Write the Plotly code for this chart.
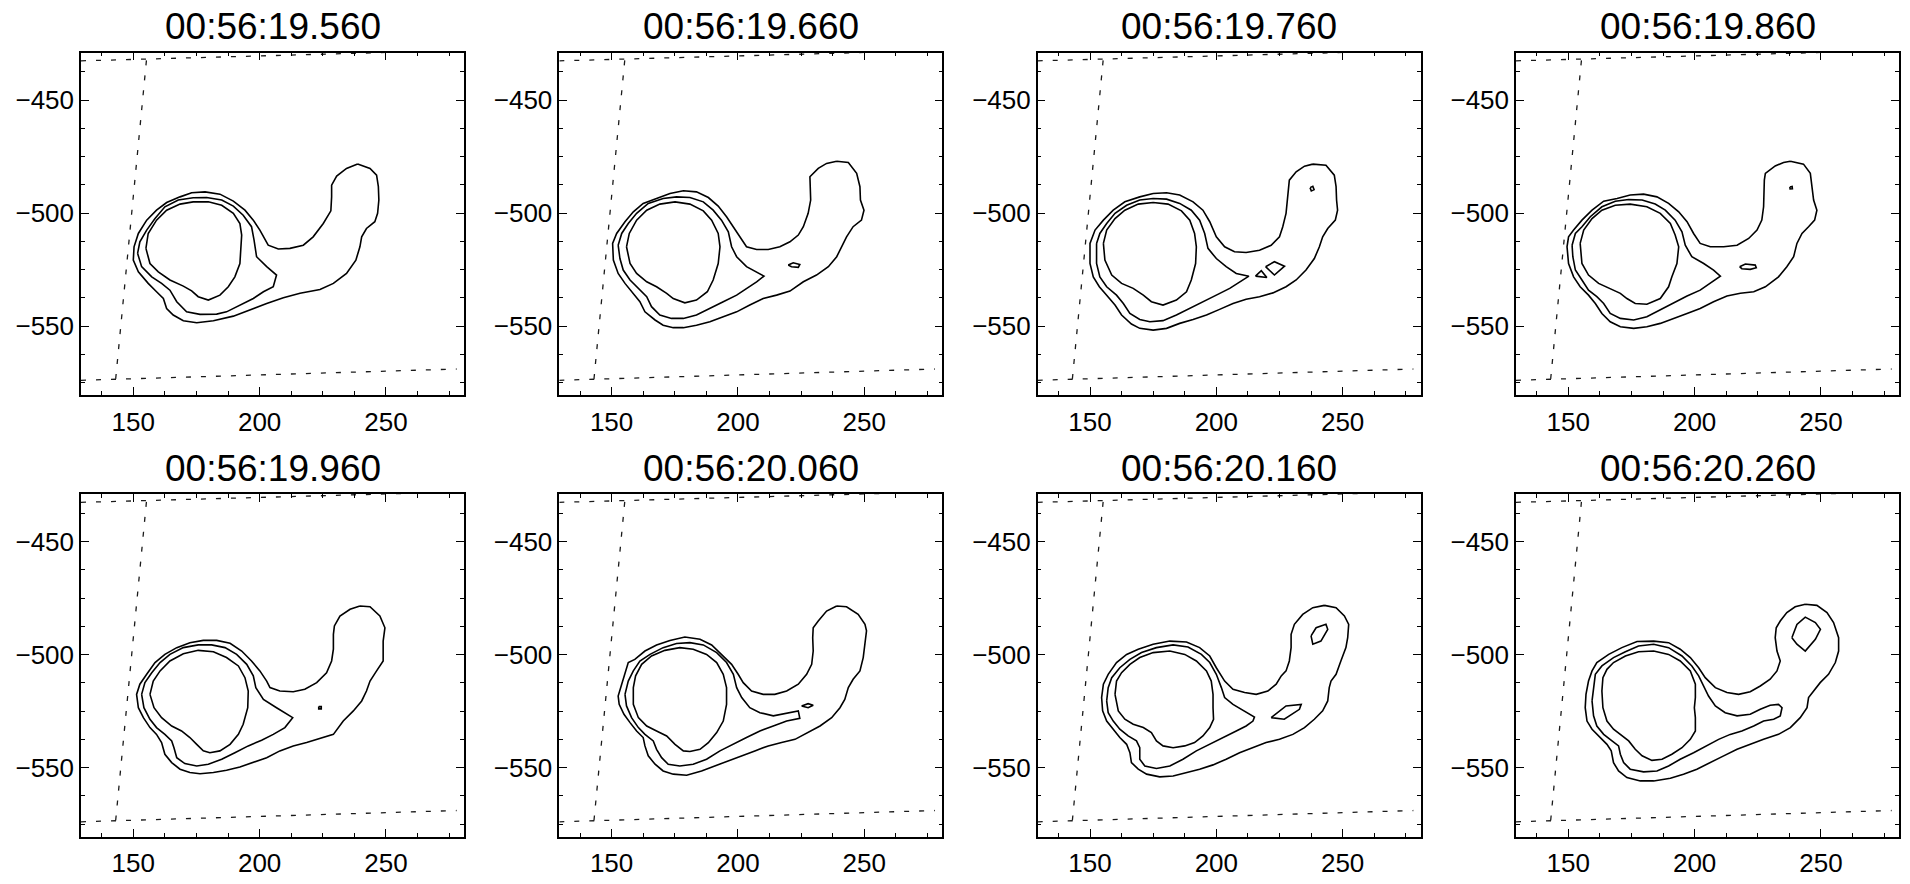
import plotly.graph_objects as go

# ---------------- data ----------------
TIMES = ["00:56:19.560", "00:56:19.660", "00:56:19.760", "00:56:19.860",
         "00:56:19.960", "00:56:20.060", "00:56:20.160", "00:56:20.260"]

X_RANGE = [129.3, 280.9]
Y_RANGE = [-580.5, -428.9]
X_TICKS = [150, 200, 250]
Y_TICKS = [-550, -500, -450]

# dashed coordinate-grid lines (same in every panel)
GRID_VERTICAL = [(155.2, -432.4), (143.0, -573.7)]
GRID_BOTTOM = [(129.3, -574.0), (278.0, -569.0)]
GRID_TOP = [(129.3, -432.6), (262.0, -428.5)]

# ---- panel 1 ----
P1_OUTER = [(238.8,-478.3),(243.7,-480.2),(246.3,-483.2),(247.0,-488.3),(247.2,-494.2),(246.7,-500.1),
            (245.6,-503.8),(242.3,-506.8),(240.4,-510.5),(239.7,-514.9),(238.1,-520.8),(234.4,-526.7),
            (229.2,-531.1),(223.9,-533.8),(216.0,-535.5),(209.4,-537.5),(202.8,-540.0),(196.2,-542.9),
            (189.6,-545.6),(181.7,-547.6),(175.1,-548.5),(169.8,-547.6),(165.8,-545.1),(163.2,-542.2),
            (161.9,-537.8),(159.2,-534.8),(155.9,-531.1),(152.0,-526.0),(150.0,-520.8),(150.3,-514.9),
            (152.0,-509.0),(155.3,-503.1),(159.2,-498.7),(163.2,-495.3),(168.5,-492.8),(173.1,-491.0),
            (178.4,-490.6),(184.3,-491.6),(189.6,-494.7),(194.2,-498.7),(197.5,-503.1),(200.1,-507.5),
            (203.4,-514.2),(207.4,-515.9),(212.0,-515.6),(217.3,-514.2),(221.2,-510.5),(225.2,-504.6),
            (228.2,-499.0),(228.5,-492.8),(228.5,-487.6),(230.5,-483.6),(234.4,-480.2)]
P1_MID = [(151.7,-517.8),(152.6,-512.7),(155.3,-507.5),(158.6,-502.4),(162.5,-497.2),(167.8,-494.2),
          (173.7,-493.2),(179.0,-493.1),(185.0,-494.2),(189.6,-496.9),(193.5,-500.9),(196.8,-506.0),
          (197.8,-511.9),(198.8,-519.3),(202.8,-523.7),(206.7,-527.4),(205.4,-532.6),(201.5,-534.8),
          (197.5,-537.8),(192.2,-540.7),(186.9,-543.7),(183.0,-544.7),(176.4,-544.8),(171.1,-543.7),
          (167.2,-539.2),(164.5,-534.1),(161.2,-531.1),(157.3,-528.2),(153.3,-523.7)]
P1_INNER = [(155.0,-515.6),(155.9,-509.0),(159.2,-503.1),(163.2,-498.7),(168.5,-496.0),(173.7,-495.0),
            (179.7,-495.0),(185.0,-496.5),(189.6,-500.1),(192.2,-504.6),(192.9,-509.7),(192.5,-515.6),
            (192.2,-522.3),(190.2,-528.2),(187.6,-532.6),(184.3,-536.3),(179.7,-538.5),(175.7,-537.0),
            (173.1,-534.4),(169.8,-532.3),(164.5,-529.6),(159.9,-526.0),(156.6,-522.3)]

# ---- panel 2 ----
P2_OUTER = [(239.1,-477.0),(243.7,-477.6),(247.0,-482.4),(248.3,-488.3),(248.5,-494.2),(249.9,-498.7),
            (248.9,-503.1),(245.6,-506.0),(243.0,-510.5),(241.0,-514.9),(239.1,-519.3),(235.8,-523.7),
            (231.1,-527.4),(225.9,-530.4),(220.6,-534.5),(215.3,-536.3),(210.0,-537.8),(204.7,-540.7),
            (199.5,-543.7),(194.2,-545.9),(188.9,-548.1),(183.6,-549.6),(178.4,-550.7),(174.4,-550.7),
            (170.4,-549.6),(167.2,-547.3),(163.2,-543.7),(161.2,-539.2),(158.6,-535.5),(155.3,-531.1),
            (152.6,-526.7),(150.7,-520.8),(150.4,-513.4),(152.0,-509.0),(155.3,-503.8),(158.6,-499.4),
            (162.5,-495.7),(167.8,-493.5),(173.1,-491.3),(178.4,-490.1),(183.6,-490.6),(188.3,-493.1),
            (192.2,-496.9),(195.5,-501.6),(198.2,-506.0),(200.8,-510.5),(203.4,-514.9),(207.4,-516.1),
            (212.0,-516.1),(216.6,-514.9),(220.6,-512.7),(223.9,-509.7),(225.9,-506.0),(227.8,-500.1),
            (228.8,-494.2),(228.5,-483.9),(231.8,-480.2),(235.1,-478.0)]
P2_MID = [(152.6,-514.2),(154.0,-509.0),(156.6,-504.6),(159.9,-500.1),(164.5,-495.7),(170.4,-493.5),
          (175.7,-492.8),(181.0,-493.1),(186.3,-495.0),(190.2,-498.7),(193.5,-503.1),(196.2,-508.3),
          (197.5,-514.9),(199.5,-519.3),(203.4,-523.7),(210.3,-527.9),(207.4,-530.4),(203.4,-533.3),
          (199.5,-536.3),(194.2,-539.2),(188.9,-542.2),(183.6,-545.1),(178.4,-546.6),(173.7,-546.6),
          (169.1,-545.1),(165.8,-541.4),(163.9,-537.0),(160.6,-533.3),(157.3,-529.6),(154.6,-525.2),
          (153.3,-520.1)]
P2_INNER = [(155.9,-514.9),(157.0,-509.0),(159.9,-503.1),(163.9,-498.7),(169.1,-496.0),(175.1,-495.0),
            (181.0,-496.0),(186.3,-499.0),(189.6,-503.1),(192.2,-509.0),(192.9,-514.9),(192.2,-522.3),
            (190.2,-529.6),(187.9,-534.8),(183.6,-538.5),(179.0,-539.7),(174.4,-537.8),(171.8,-535.5),
            (167.8,-532.6),(163.9,-530.4),(159.9,-526.7),(157.3,-522.3)]
P2_SPOT = [(219.9,-523.0),(221.9,-522.0),(224.5,-522.7),(223.9,-524.0),(221.2,-523.7)]

# ---- panel 3 ----
P3_OUTER = [(238.2,-478.3),(243.4,-478.8),(246.7,-483.2),(247.4,-488.3),(247.6,-494.2),(248.0,-498.7),
            (247.1,-503.1),(244.1,-506.8),(242.1,-510.5),(240.8,-514.9),(238.8,-520.1),(235.5,-525.2),
            (231.6,-529.6),(227.6,-532.6),(222.4,-535.3),(217.1,-537.0),(211.8,-538.1),(206.6,-540.0),
            (201.3,-542.6),(196.1,-545.1),(190.8,-547.1),(185.5,-548.8),(180.3,-551.0),(175.0,-551.8),
            (169.7,-551.0),(166.4,-549.1),(162.5,-545.1),(159.9,-540.7),(156.6,-536.3),(153.7,-532.6),
            (151.3,-528.2),(150.0,-522.3),(150.0,-513.4),(152.0,-507.5),(155.3,-503.1),(159.2,-498.7),
            (163.8,-495.0),(169.7,-492.8),(175.0,-491.3),(180.3,-491.0),(185.5,-492.0),(190.8,-495.0),
            (194.7,-498.7),(197.4,-503.8),(200.0,-510.5),(203.3,-514.9),(207.2,-517.1),(211.8,-517.4),
            (217.1,-516.4),(221.7,-514.2),(225.0,-510.5),(226.3,-506.0),(227.6,-500.1),(228.3,-492.8),
            (228.9,-485.4),(231.6,-481.7),(234.9,-479.2)]
P3_MID = [(152.6,-513.4),(153.9,-509.0),(156.6,-504.6),(159.9,-500.1),(164.5,-496.5),(169.7,-494.2),
          (175.0,-493.5),(180.3,-493.8),(185.5,-495.7),(190.1,-498.7),(193.4,-503.1),(195.4,-509.0),
          (196.7,-515.6),(200.0,-520.1),(203.9,-523.7),(207.9,-526.7),(212.9,-527.9),(209.2,-530.4),
          (205.3,-533.3),(200.0,-536.3),(194.7,-539.2),(189.5,-542.2),(184.2,-545.1),(178.9,-547.6),
          (173.7,-548.1),(169.7,-547.1),(165.8,-544.4),(163.2,-540.0),(160.5,-536.3),(156.6,-532.6),
          (153.9,-528.2),(152.6,-522.3)]
P3_INNER = [(155.3,-513.4),(156.6,-507.5),(159.9,-502.4),(163.8,-498.7),(169.1,-496.0),(175.0,-495.3),
            (180.9,-496.0),(186.2,-499.0),(189.5,-503.1),(191.4,-509.0),(192.1,-514.9),(191.8,-522.3),
            (190.1,-529.6),(188.2,-534.8),(184.2,-538.5),(178.9,-540.7),(174.3,-539.2),(171.1,-536.3),
            (167.1,-533.3),(162.5,-531.1),(158.6,-527.4),(155.9,-520.8)]
P3_TRIANGLE = [(215.5,-527.9),(217.8,-525.5),(220.0,-528.5)]
P3_DIAMOND = [(219.5,-523.7),(223.0,-521.5),(227.0,-523.5),(223.0,-527.4)]
P3_DOT = [(237.1,-488.7),(238.2,-488.1),(238.7,-489.6),(237.6,-490.2)]

# ---- panel 4 ----
P4_OUTER = [(237.9,-477.0),(243.1,-478.3),(245.8,-482.4),(246.4,-488.3),(247.1,-494.2),(248.4,-498.7),
            (247.5,-503.1),(245.1,-506.0),(242.5,-509.0),(240.5,-513.4),(239.2,-519.3),(236.5,-523.7),
            (233.2,-528.2),(228.0,-532.6),(223.4,-534.8),(218.1,-535.5),(212.8,-536.7),(207.5,-539.2),
            (202.2,-542.2),(197.0,-544.4),(191.7,-546.6),(186.4,-548.8),(181.1,-550.3),(175.9,-551.0),
            (170.6,-550.3),(166.6,-548.1),(163.3,-544.4),(160.7,-540.0),(158.0,-536.3),(154.7,-532.6),
            (152.1,-528.2),(150.1,-522.3),(149.5,-514.9),(150.1,-510.5),(152.1,-507.5),(155.4,-503.1),
            (159.4,-498.7),(164.0,-494.7),(169.3,-493.5),(174.5,-492.0),(179.8,-491.6),(185.1,-492.8),
            (189.7,-495.7),(193.7,-499.4),(197.0,-503.8),(199.6,-509.0),(202.2,-513.4),(206.2,-514.9),
            (211.5,-514.9),(216.8,-514.2),(221.4,-511.2),(224.7,-507.5),(226.6,-503.1),(227.3,-497.2),
            (227.6,-485.4),(228.0,-482.4),(231.9,-479.1),(235.2,-477.6)]
P4_MID = [(151.5,-514.2),(152.8,-509.0),(155.4,-506.0),(158.7,-501.6),(163.3,-497.2),(168.6,-494.7),
          (173.9,-494.0),(179.2,-494.2),(184.4,-496.0),(188.4,-498.7),(192.3,-503.1),(195.0,-508.3),
          (196.3,-514.2),(198.9,-519.3),(203.6,-522.3),(207.5,-525.2),(210.2,-527.9),(206.9,-530.4),
          (202.2,-534.1),(197.0,-536.7),(191.7,-539.7),(186.4,-542.6),(181.1,-545.9),(175.9,-547.3),
          (170.6,-546.6),(166.6,-544.4),(164.0,-540.0),(161.3,-537.0),(158.0,-534.1),(155.4,-529.6),
          (152.8,-525.2),(151.8,-519.3)]
P4_INNER = [(154.7,-513.4),(156.1,-507.5),(159.4,-502.4),(163.3,-498.7),(168.6,-496.5),(174.5,-496.0),
            (181.1,-497.2),(186.4,-500.1),(190.4,-504.6),(192.3,-509.7),(193.7,-514.9),(193.0,-522.3),
            (191.0,-528.2),(189.7,-532.6),(186.4,-537.8),(181.1,-540.3),(176.5,-540.0),(173.2,-537.8),
            (170.6,-535.5),(166.6,-533.3),(162.0,-531.1),(158.0,-527.4),(155.4,-522.3)]
P4_SPOT = [(217.8,-523.7),(220.1,-522.5),(224.0,-523.0),(224.4,-524.2),(222.0,-524.9),(218.7,-524.6)]
P4_DOT = [(237.7,-488.4),(238.6,-488.2),(238.7,-489.2),(237.8,-489.3)]

# ---- panel 5 ----
P5_OUTER = [(239.7,-478.5),(243.7,-478.8),(247.6,-482.9),(249.6,-488.1),(248.9,-494.0),(248.9,-502.8),
            (246.3,-507.2),(243.7,-511.7),(242.3,-516.1),(240.4,-520.5),(237.1,-524.9),(233.1,-529.4),
            (229.2,-535.3),(223.9,-537.2),(218.6,-538.9),(213.3,-540.4),(208.0,-542.6),(202.8,-545.6),
            (197.5,-547.8),(192.2,-549.7),(186.9,-551.2),(181.7,-552.2),(176.4,-552.7),(172.4,-552.2),
            (168.5,-550.7),(165.2,-547.8),(162.5,-544.1),(161.2,-538.9),(159.2,-535.3),(156.6,-532.3),
            (154.0,-527.9),(152.0,-523.5),(151.3,-517.6),(152.6,-513.1),(155.3,-508.7),(158.6,-503.5),
            (162.5,-499.9),(167.2,-496.9),(172.4,-494.7),(177.7,-493.7),(183.0,-493.7),(188.3,-495.0),
            (192.9,-498.4),(196.8,-502.8),(200.1,-507.2),(202.8,-511.7),(204.1,-514.6),(208.0,-516.1),
            (213.3,-516.4),(217.9,-515.3),(222.6,-512.4),(226.5,-508.0),(228.5,-502.8),(229.2,-497.6),
            (229.2,-491.0),(229.6,-487.3),(231.8,-482.9),(235.8,-479.9)]
P5_MID = [(153.3,-517.6),(154.6,-512.4),(157.3,-508.0),(160.6,-503.5),(164.5,-499.9),(169.8,-496.9),
          (175.7,-495.7),(181.0,-495.7),(186.3,-496.9),(190.9,-499.9),(194.9,-504.3),(197.5,-509.4),
          (198.5,-514.6),(201.5,-519.8),(206.7,-523.5),(213.1,-527.9),(210.0,-532.3),(205.4,-535.3),
          (200.8,-537.9),(195.5,-540.4),(190.2,-543.4),(185.0,-546.3),(179.7,-548.5),(175.1,-549.3),
          (170.4,-548.2),(167.2,-545.6),(166.1,-541.2),(165.2,-538.2),(162.5,-535.3),(159.2,-532.3),
          (156.6,-528.6),(154.2,-523.5)]
P5_INNER = [(156.6,-517.6),(157.9,-511.7),(160.6,-507.2),(164.5,-502.8),(169.8,-499.6),(175.7,-498.1),
            (181.7,-498.7),(186.9,-501.3),(191.6,-505.0),(194.2,-510.2),(195.5,-516.1),(195.3,-523.5),
            (193.5,-530.8),(191.6,-535.3),(188.3,-539.7),(184.3,-542.6),(180.3,-543.4),(177.7,-542.6),
            (175.1,-539.7),(172.4,-536.7),(169.1,-533.8),(165.2,-531.6),(161.2,-527.9),(158.2,-523.5)]
P5_DOT = [(223.4,-523.0),(224.4,-523.0),(224.4,-524.0),(223.4,-524.0)]

# ---- panel 6 ----
P6_OUTER = [(239.1,-478.5),(243.0,-478.8),(247.6,-482.2),(250.3,-486.6),(250.9,-489.5),(250.3,-495.4),
            (249.6,-501.3),(248.3,-507.2),(245.6,-510.9),(243.7,-514.6),(242.3,-519.8),(240.4,-523.5),
            (237.1,-527.9),(232.5,-531.6),(227.8,-534.5),(222.6,-537.5),(217.3,-538.9),(212.0,-540.4),
            (206.7,-542.6),(201.5,-544.8),(196.2,-547.1),(190.9,-549.3),(185.6,-551.5),(179.7,-553.4),
            (174.4,-552.9),(170.4,-551.5),(167.2,-548.5),(164.5,-544.8),(163.2,-540.4),(162.5,-536.7),
            (159.9,-533.8),(157.3,-530.1),(154.9,-526.4),(153.0,-522.0),(152.6,-518.3),(154.0,-513.1),
            (155.3,-508.7),(156.6,-503.5),(159.2,-502.1),(163.2,-498.4),(167.8,-495.7),(173.1,-493.7),
            (179.0,-492.2),(185.0,-493.2),(189.6,-495.7),(193.5,-499.9),(197.5,-504.3),(200.1,-508.7),
            (202.1,-512.4),(205.4,-516.1),(210.0,-517.6),(214.6,-517.6),(219.3,-516.1),(223.9,-513.1),
            (227.2,-508.7),(229.2,-504.3),(229.8,-498.4),(229.6,-492.5),(229.8,-488.1),(231.8,-485.1),
            (235.1,-480.7)]
P6_MID = [(155.3,-517.6),(156.6,-511.7),(158.6,-507.2),(161.2,-502.8),(165.2,-499.9),(170.4,-496.9),
          (175.7,-495.1),(181.0,-494.7),(186.3,-495.7),(191.6,-499.1),(195.5,-503.5),(198.2,-508.7),
          (199.5,-514.6),(201.5,-519.0),(204.7,-523.5),(208.7,-525.7),(214.0,-527.1),(218.6,-526.1),
          (223.9,-524.9),(224.5,-528.2),(219.3,-529.4),(214.0,-531.6),(208.7,-533.8),(203.4,-536.7),
          (198.2,-539.7),(192.9,-542.6),(187.6,-546.3),(182.3,-548.5),(177.0,-549.3),(172.4,-548.5),
          (169.8,-545.6),(167.8,-541.9),(166.5,-538.2),(163.2,-535.3),(160.6,-532.3),(157.9,-527.9),
          (155.9,-522.7)]
P6_INNER = [(158.6,-514.6),(159.5,-509.4),(161.9,-504.3),(165.8,-500.6),(171.1,-498.1),(177.0,-496.9),
            (182.3,-497.6),(187.6,-499.9),(191.6,-503.5),(194.2,-508.7),(195.5,-514.6),(195.5,-522.0),
            (194.2,-529.4),(191.6,-534.5),(188.3,-539.0),(185.0,-541.9),(181.0,-542.9),(178.4,-542.6),
            (175.1,-539.7),(171.8,-536.0),(167.8,-533.8),(163.9,-531.6),(160.6,-527.9),(158.6,-522.0)]
P6_SPOT = [(225.2,-522.7),(227.8,-521.7),(229.8,-522.4),(227.8,-523.5)]

# ---- panel 7 ----
P7_OUTER = [(242.8,-478.2),(247.4,-479.2),(250.7,-482.9),(252.4,-486.6),(252.0,-492.5),(251.3,-496.9),
            (249.3,-502.8),(247.4,-508.7),(245.4,-511.7),(244.7,-514.6),(244.1,-520.5),(242.1,-524.9),
            (238.8,-528.6),(234.9,-532.3),(230.3,-535.3),(225.0,-537.5),(219.7,-538.9),(214.5,-541.2),
            (209.2,-543.4),(203.9,-546.3),(198.7,-548.8),(193.4,-550.7),(188.2,-552.2),(182.9,-553.7),
            (177.6,-554.1),(172.4,-552.9),(169.1,-550.7),(166.4,-547.8),(165.8,-543.4),(164.5,-539.7),
            (161.8,-536.7),(159.2,-533.0),(156.6,-529.4),(155.0,-524.9),(154.6,-519.0),(155.3,-513.1),
            (157.2,-508.7),(160.5,-503.5),(164.5,-499.9),(169.1,-497.6),(175.0,-495.4),(181.6,-494.0),
            (188.2,-494.4),(193.4,-496.9),(197.4,-500.6),(200.0,-505.8),(203.3,-511.7),(206.6,-515.3),
            (211.2,-516.8),(215.8,-517.6),(220.4,-516.1),(223.7,-513.1),(225.7,-509.4),(227.6,-507.2),
            (228.9,-502.8),(229.6,-496.9),(229.6,-491.0),(230.9,-486.6),(234.2,-482.2),(238.2,-479.2)]
P7_MID = [(156.6,-520.5),(157.2,-514.6),(158.6,-510.2),(161.8,-505.8),(165.8,-502.1),(170.4,-499.1),
          (176.3,-496.9),(182.9,-495.7),(188.8,-496.6),(194.1,-499.9),(197.4,-503.5),(200.0,-508.7),
          (202.0,-514.6),(203.3,-519.0),(206.6,-522.0),(211.2,-524.9),(215.1,-527.6),(214.5,-529.4),
          (211.8,-531.6),(207.9,-533.8),(202.6,-536.7),(197.4,-539.7),(192.1,-542.6),(186.8,-546.3),
          (181.6,-549.3),(176.3,-550.4),(171.7,-549.3),(169.7,-546.3),(169.7,-541.2),(168.4,-538.2),
          (165.1,-536.0),(161.8,-533.0),(159.2,-529.4),(157.2,-525.7)]
P7_INNER = [(159.9,-517.6),(160.5,-511.7),(162.5,-508.0),(165.8,-504.3),(169.7,-501.3),(175.0,-499.1),
            (181.6,-498.4),(187.5,-499.9),(192.1,-502.8),(196.1,-507.2),(198.0,-511.7),(198.7,-517.6),
            (198.7,-523.5),(198.9,-528.6),(197.4,-532.3),(194.7,-536.0),(191.4,-538.9),(187.5,-540.4),
            (182.9,-541.2),(178.9,-540.4),(176.3,-538.2),(174.3,-534.5),(171.1,-532.3),(167.1,-530.8),
            (163.8,-528.6),(161.2,-524.9)]
P7_HEAD = [(237.5,-491.7),(239.5,-488.1),(243.4,-486.6),(244.1,-488.8),(241.4,-494.0),(238.2,-495.4)]
P7_TAIL = [(221.7,-527.9),(227.6,-522.7),(233.6,-522.0),(232.9,-524.2),(226.9,-528.6)]

# ---- panel 8 ----
P8_OUTER = [(243.8,-477.7),(248.4,-478.2),(252.4,-481.4),(255.0,-485.8),(257.0,-492.5),(257.0,-498.4),
            (255.7,-503.5),(253.0,-508.7),(249.7,-512.4),(247.1,-516.1),(245.1,-519.0),(244.5,-523.5),
            (241.8,-527.9),(237.9,-532.3),(233.2,-535.3),(227.3,-537.5),(222.0,-539.7),(216.8,-541.9),
            (211.5,-544.8),(206.2,-547.8),(200.9,-550.7),(195.6,-552.9),(190.4,-554.7),(183.8,-555.9),
            (178.5,-555.9),(173.2,-554.4),(169.9,-551.5),(167.9,-547.8),(167.0,-542.6),(165.3,-539.7),
            (162.7,-536.7),(159.4,-533.0),(157.4,-529.4),(156.7,-523.5),(157.0,-517.6),(158.0,-511.7),
            (159.4,-507.2),(161.3,-503.5),(166.0,-499.9),(171.2,-496.9),(177.2,-494.2),(183.8,-494.0),
            (189.7,-494.7),(194.3,-497.6),(198.3,-501.3),(201.6,-505.8),(204.2,-510.2),(208.2,-514.6),
            (212.8,-516.8),(217.4,-517.6),(222.0,-516.4),(226.0,-513.9),(229.9,-510.9),(232.6,-507.2),
            (233.9,-502.8),(232.6,-498.4),(231.9,-492.5),(232.3,-488.1),(233.9,-485.1),(236.5,-481.4),
            (239.8,-478.8)]
P8_MID = [(159.4,-520.5),(160.0,-514.6),(160.7,-508.7),(163.3,-505.0),(167.9,-501.3),(172.6,-498.7),
          (177.8,-496.2),(183.8,-495.4),(189.7,-496.9),(195.0,-500.6),(198.9,-505.0),(201.6,-509.4),
          (203.6,-513.9),(205.5,-518.3),(208.2,-522.7),(212.1,-525.7),(216.8,-527.1),(222.0,-526.4),
          (226.0,-524.2),(229.9,-522.4),(233.2,-522.0),(234.6,-523.5),(233.9,-527.1),(231.3,-528.6),
          (227.3,-529.4),(223.4,-531.6),(218.7,-533.8),(214.1,-535.3),(209.5,-537.5),(204.9,-540.4),
          (199.6,-543.4),(194.3,-546.3),(189.7,-549.3),(185.1,-551.5),(179.8,-551.9),(174.5,-550.7),
          (171.9,-547.8),(170.6,-544.1),(169.9,-540.4),(167.3,-538.2),(164.0,-535.3),(161.3,-531.6),
          (160.0,-527.1)]
P8_INNER = [(163.3,-516.1),(163.7,-510.2),(165.3,-506.5),(167.9,-503.5),(172.6,-500.6),(177.8,-498.7),
            (183.8,-498.4),(189.7,-499.9),(194.3,-502.8),(198.3,-507.2),(200.3,-513.1),(200.3,-519.0),
            (199.9,-523.5),(200.3,-527.9),(200.3,-533.8),(198.3,-537.5),(195.0,-541.2),(191.0,-544.1),
            (187.1,-546.3),(183.1,-546.8),(179.2,-544.8),(176.5,-541.9),(173.9,-538.2),(170.6,-535.3),
            (167.9,-533.0),(165.3,-529.4),(163.7,-523.5)]
P8_HEAD = [(238.5,-492.5),(240.5,-486.6),(243.8,-483.4),(247.8,-485.8),(249.8,-488.8),(247.8,-493.2),
           (243.8,-498.4),(240.5,-495.4)]

PANEL_CONTOURS = [
    [P1_OUTER, P1_MID, P1_INNER],
    [P2_OUTER, P2_MID, P2_INNER, P2_SPOT],
    [P3_OUTER, P3_MID, P3_INNER, P3_TRIANGLE, P3_DIAMOND, P3_DOT],
    [P4_OUTER, P4_MID, P4_INNER, P4_SPOT, P4_DOT],
    [P5_OUTER, P5_MID, P5_INNER, P5_DOT],
    [P6_OUTER, P6_MID, P6_INNER, P6_SPOT],
    [P7_OUTER, P7_MID, P7_INNER, P7_HEAD, P7_TAIL],
    [P8_OUTER, P8_MID, P8_INNER, P8_HEAD],
]

# ---------------- layout geometry (pixels) ----------------
W, H = 1910, 884
LEFTS = [81.0, 559.3, 1037.7, 1516.0]
PANEL_W = 383.0
TOPS = [52.5, 494.0]
PANEL_H = 342.5
TITLE_Y = [26.7, 468.0]

FONT = "Liberation Sans, Arial, Helvetica, sans-serif"

fig = go.Figure()
layout_axes = {}
annotations = []

for i, contours in enumerate(PANEL_CONTOURS):
    row, col = divmod(i, 4)
    n = i + 1
    xa = "x" if n == 1 else f"x{n}"
    ya = "y" if n == 1 else f"y{n}"

    # dashed grid
    for seg in (GRID_VERTICAL, GRID_BOTTOM, GRID_TOP):
        fig.add_trace(go.Scatter(
            x=[p[0] for p in seg], y=[p[1] for p in seg], mode="lines",
            line=dict(color="#1a1a1a", width=1.3, dash="5px,10px"),
            xaxis=xa, yaxis=ya, showlegend=False, hoverinfo="skip"))

    for c in contours:
        pts = list(c) + [c[0]]
        fig.add_trace(go.Scatter(
            x=[p[0] for p in pts], y=[p[1] for p in pts], mode="lines",
            line=dict(color="black", width=1.6),
            xaxis=xa, yaxis=ya, showlegend=False, hoverinfo="skip"))

    x0 = LEFTS[col] / W
    x1 = (LEFTS[col] + PANEL_W) / W
    y1 = 1 - TOPS[row] / H
    y0 = 1 - (TOPS[row] + PANEL_H) / H

    axis_common = dict(
        showgrid=False, zeroline=False, showline=True, linecolor="black", linewidth=1.5,
        mirror="allticks", ticks="inside", ticklen=8, tickwidth=1.3, tickcolor="black",
        tickfont=dict(family=FONT, size=26, color="black"),
        minor=dict(ticks="inside", ticklen=4, tickwidth=1.1, tickcolor="black", dtick=12.5, tick0=0),
    )
    layout_axes["xaxis" if n == 1 else f"xaxis{n}"] = dict(
        axis_common, domain=[x0, x1], range=X_RANGE, tickmode="array", tickvals=X_TICKS,
        anchor=ya, ticklabelstandoff=3)
    layout_axes["yaxis" if n == 1 else f"yaxis{n}"] = dict(
        axis_common, domain=[y0, y1], range=Y_RANGE, tickmode="array", tickvals=Y_TICKS,
        anchor=xa, ticklabelstandoff=0)

    annotations.append(dict(
        text=TIMES[i], xref="paper", yref="paper",
        x=(LEFTS[col] + PANEL_W / 2) / W, y=1 - TITLE_Y[row] / H,
        xanchor="center", yanchor="middle", showarrow=False,
        font=dict(family=FONT, size=37, color="black")))

fig.update_layout(
    width=W, height=H, margin=dict(l=0, r=0, t=0, b=0),
    paper_bgcolor="white", plot_bgcolor="white",
    annotations=annotations, showlegend=False, **layout_axes)

fig.write_html(
    "out.html",
    config={"displayModeBar": False},
    post_script="document.body.style.margin='0px';document.body.style.padding='0px';"
                "document.body.style.overflow='hidden';")
